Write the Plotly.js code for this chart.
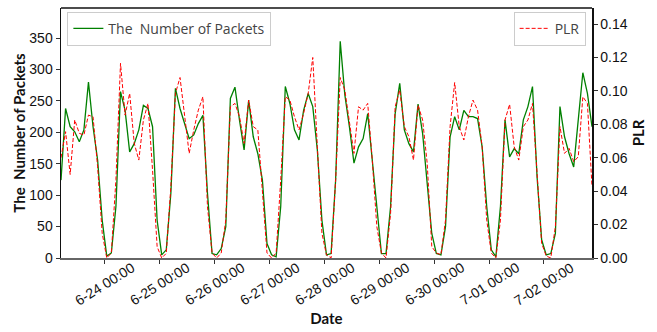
<!DOCTYPE html>
<html>
<head>
<meta charset="utf-8">
<script src="https://cdn.plot.ly/plotly-3.0.1.min.js"></script>
<style>html,body{margin:0;padding:0;background:#fff;}#chart{width:657px;height:332px;}</style>
</head>
<body>
<div id="chart"></div>
<script>
// Sampling: every 2 hours, starting 2019-06-23 05:00
const startTime = "2019-06-23T05:00:00Z";
const stepHours = 2;

const packets = [124,238,209,201,185,204,280,209,156,60,3,8,82,265,235,169,182,204,243,238,
209,60,5,13,103,270,238,214,190,196,214,227,103,7,5,15,50,254,272,219,
172,251,193,166,124,23,5,2,82,273,246,204,188,235,262,241,172,60,5,7,
125,345,260,209,151,177,190,230,156,76,7,7,82,230,278,204,182,169,245,198,
124,39,7,5,50,193,225,204,235,225,225,222,177,82,13,2,82,220,161,174,
166,220,241,273,129,29,5,7,39,241,193,166,145,220,295,262,209];

const plr = [0.060,0.0756,0.050,0.0826,0.0746,0.0736,0.0855,0.0845,0.0546,0.0148,0,0.003,0.047,0.1165,0.0855,0.0985,0.0686,0.0586,0.0826,0.0925,
0.0526,0.0068,0,0.0028,0.0427,0.0985,0.108,0.0865,0.0626,0.0766,0.0885,0.0965,0.0307,0.003,0,0.003,0.0227,0.0905,0.0925,0.0845,
0.0686,0.0945,0.0786,0.0766,0.0387,0.003,0,0.003,0.0467,0.0965,0.0945,0.0845,0.0766,0.0865,0.0985,0.120,0.0666,0.0148,0.0018,0,
0.047,0.108,0.1005,0.0826,0.0626,0.0905,0.0885,0.0925,0.0586,0.0187,0.003,0,0.0267,0.0905,0.1005,0.0786,0.0726,0.0586,0.0915,0.0826,
0.0566,0.0068,0.003,0.002,0.0227,0.0786,0.105,0.0786,0.0706,0.0845,0.0945,0.0885,0.0666,0.0227,0.003,0,0.0227,0.0826,0.092,0.0666,
0.0586,0.0786,0.0826,0.0925,0.0526,0.0088,0.0012,0,0.0187,0.0786,0.0626,0.0656,0.0576,0.0606,0.0965,0.0925,0.0427];

const tickDates = ["2019-06-24","2019-06-25","2019-06-26","2019-06-27","2019-06-28","2019-06-29","2019-06-30","2019-07-01","2019-07-02"];
const tickLabels = ["6-24 00:00","6-25 00:00","6-26 00:00","6-27 00:00","6-28 00:00","6-29 00:00","6-30 00:00","7-01 00:00","7-02 00:00"];
const leftTicks = [0,50,100,150,200,250,300,350];
const rightTicks = [0,0.02,0.04,0.06,0.08,0.10,0.12,0.14];

function fmt(d){
  const p = n => String(n).padStart(2,'0');
  return d.getUTCFullYear()+'-'+p(d.getUTCMonth()+1)+'-'+p(d.getUTCDate())+' '+p(d.getUTCHours())+':'+p(d.getUTCMinutes());
}
const t0 = new Date(startTime).getTime();
const times = packets.map((_, i) => fmt(new Date(t0 + i*stepHours*3600000)));

const tickFont = {family:'"Liberation Sans", Arial, sans-serif', size:14, color:'#111'};
const titleFont = {family:'Lato, "Open Sans", sans-serif', size:15, color:'#111', weight:'bold'};

const traces = [
  {x: times, y: packets, type:'scatter', mode:'lines', name:'The  Number of Packets',
   line:{color:'#008000', width:1.3}, yaxis:'y', legend:'legend'},
  {x: times, y: plr, type:'scatter', mode:'lines', name:'PLR',
   line:{color:'#ff0000', width:1, dash:'4px,2px'}, yaxis:'y2', legend:'legend2'}
];

// centred, rotated date labels (matplotlib-style centre alignment)
const dateLabels = tickDates.map((d, i) => ({
  x: d, xref:'x', y:-0.102, yref:'paper', text: tickLabels[i], textangle:-32,
  showarrow:false, xanchor:'center', yanchor:'middle', font: tickFont
}));

const layout = {
  width:657, height:332,
  margin:{l:61, r:65, t:8, b:74},
  paper_bgcolor:'#fff', plot_bgcolor:'#fff',
  showlegend:true,
  xaxis:{
    type:'date', range:[times[0], times[times.length-1]],
    tickvals: tickDates, ticktext: tickLabels, showticklabels:false,
    ticks:'outside', ticklen:4, tickcolor:'#333',
    showgrid:false, zeroline:false,
    showline:true, linecolor:'#666', linewidth:2,
    title:{text:'Date', font:titleFont, standoff:50}, automargin:false
  },
  yaxis:{
    range:[0, 398], tickvals: leftTicks, ticktext: leftTicks.map(String),
    tickfont: tickFont, ticks:'outside', ticklen:4, tickcolor:'#333',
    showgrid:false, zeroline:false,
    showline:true, linecolor:'#111', linewidth:1.5,
    title:{text:'The  Number of Packets', font:titleFont, standoff:0}, automargin:false
  },
  yaxis2:{
    overlaying:'y', side:'right', range:[0, 0.1496],
    tickvals: rightTicks, ticktext: rightTicks.map(v => v.toFixed(2)),
    tickfont: tickFont, ticks:'outside', ticklen:4, tickcolor:'#333',
    showgrid:false, zeroline:false,
    showline:true, linecolor:'#111', linewidth:1.5,
    title:{text:'PLR', font:titleFont, standoff:6}, automargin:false
  },
  shapes:[{type:'line', xref:'paper', yref:'paper', x0:0, x1:1, y0:1, y1:1,
           line:{color:'#111', width:1.5}}],
  annotations: dateLabels,
  legend:{x:0.012, y:0.985, xanchor:'left', yanchor:'top',
    bgcolor:'rgba(255,255,255,0.85)', bordercolor:'#ccc', borderwidth:1,
    font:{family:'"Open Sans", sans-serif', size:14, color:'#444'}},
  legend2:{x:0.988, y:0.985, xanchor:'right', yanchor:'top',
    bgcolor:'rgba(255,255,255,0.85)', bordercolor:'#ccc', borderwidth:1,
    font:{family:'"Open Sans", sans-serif', size:14, color:'#444'}}
};

Plotly.newPlot('chart', traces, layout, {staticPlot:true, displayModeBar:false});
</script>
</body>
</html>
